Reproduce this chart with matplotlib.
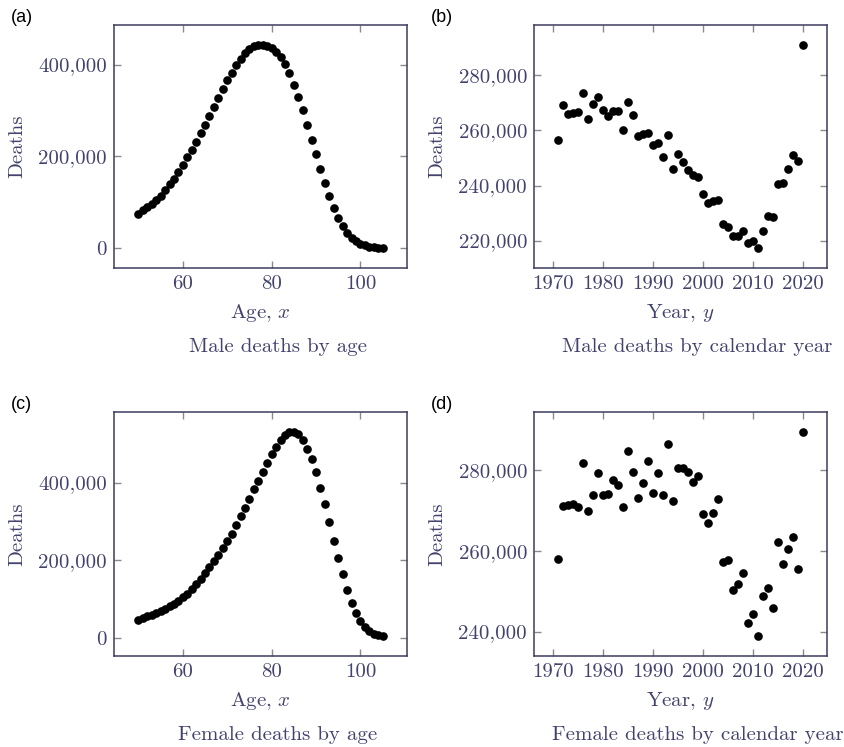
import matplotlib
matplotlib.use("Agg")
import matplotlib.pyplot as plt
from matplotlib.ticker import FuncFormatter

plt.rcParams["font.family"] = "serif"
plt.rcParams["font.serif"] = ["cmr10"]
plt.rcParams["mathtext.fontset"] = "cm"
plt.rcParams["axes.formatter.use_mathtext"] = True

# data
ages = list(range(50, 106))
male_by_age = [
    74.5, 81.7, 89.0, 96.2, 104.2, 112.1, 125.1, 138.2, 150.5, 166.4,
    181.6, 198.2, 214.1, 231.5, 250.3, 269.1, 287.9, 308.1, 327.7, 347.2,
    365.3, 381.9, 400.0, 412.3, 425.3, 434.0, 439.8, 442.0, 442.0, 441.2,
    436.2, 427.5, 416.6, 401.4, 380.5, 355.9, 329.8, 300.2, 268.4, 235.8,
    204.0, 172.2, 141.8, 113.6, 87.5, 65.8, 47.7, 33.3, 22.4, 14.5,
    8.7, 5.1, 2.2, 0.7, 0.3, 0.1,
]
female_by_age = [
    47.9, 52.1, 56.4, 60.7, 65.8, 70.9, 76.1, 82.0, 88.9, 96.6,
    105.1, 114.5, 125.6, 138.5, 152.1, 167.5, 182.9, 197.4, 213.7, 230.8,
    250.4, 269.2, 292.3, 314.5, 335.9, 358.1, 382.9, 404.3, 426.5, 451.3,
    474.4, 492.3, 508.5, 522.2, 529.1, 529.1, 524.0, 508.5, 486.3, 461.5,
    427.4, 385.5, 344.4, 299.1, 251.3, 206.8, 164.1, 123.9, 90.6, 65.0,
    43.6, 28.2, 17.9, 11.1, 7.7, 6.8,
]
years = list(range(1971, 2021))
male_by_year = [
    256.4, 269.4, 266.0, 266.3, 266.6, 273.6, 264.2, 269.7, 272.3, 267.4,
    265.3, 267.2, 266.9, 260.1, 270.3, 265.6, 258.1, 258.6, 259.2, 254.8,
    255.4, 250.3, 258.2, 246.1, 251.6, 248.7, 245.6, 243.8, 243.1, 236.8,
    233.7, 234.4, 234.8, 226.1, 224.8, 221.8, 221.8, 223.6, 219.3, 220.0,
    217.4, 223.6, 228.8, 228.4, 240.5, 240.8, 246.1, 251.0, 248.9, 290.9,
]
female_by_year = [
    257.9, 271.0, 271.3, 271.5, 270.8, 281.6, 269.9, 273.9, 279.2, 273.9,
    274.0, 277.4, 276.2, 270.8, 284.6, 279.6, 273.0, 276.7, 282.1, 274.2,
    279.3, 273.8, 286.5, 272.2, 280.5, 280.6, 279.5, 277.1, 278.4, 269.2,
    267.0, 269.3, 272.8, 257.3, 257.7, 250.2, 251.9, 254.6, 242.1, 244.4,
    239.0, 248.7, 250.9, 245.8, 262.1, 256.8, 260.5, 263.3, 255.4, 289.3,
]

txt = "#42426e"
frame = "#3c3c5e"
fs = 15

fig = plt.figure(figsize=(8.44, 7.47), dpi=100)

panels = [
    ("(a)", [0.1351, 0.6412, 0.3472, 0.3253], ages, male_by_age, "Age, $x$",
     "Male deaths by age", [60, 80, 100], [0, 200000, 400000]),
    ("(b)", [0.6327, 0.6412, 0.3472, 0.3253], years, male_by_year, "Year, $y$",
     "Male deaths by calendar year", list(range(1970, 2030, 10)),
     [220000, 240000, 260000, 280000]),
    ("(c)", [0.1351, 0.1218, 0.3472, 0.3266], ages, female_by_age, "Age, $x$",
     "Female deaths by age", [60, 80, 100], [0, 200000, 400000]),
    ("(d)", [0.6327, 0.1218, 0.3472, 0.3266], years, female_by_year, "Year, $y$",
     "Female deaths by calendar year", list(range(1970, 2030, 10)),
     [240000, 260000, 280000]),
]

for letter, rect, xs, vals, xlab, sub, xt, yt in panels:
    ax = fig.add_axes(rect)
    ax.plot(xs, [v * 1000 for v in vals], "o", color="black", markersize=5.2, linestyle="none")
    ax.margins(0.1)
    ax.set_xticks(xt)
    ax.set_yticks(yt)
    ax.yaxis.set_major_formatter(FuncFormatter(lambda v, p: f"{v:,.0f}"))
    ax.xaxis.set_major_formatter(FuncFormatter(lambda v, p: f"{v:.0f}"))
    ax.tick_params(direction="in", top=True, right=True, length=5, width=1,
                   color="#8a8a8a", labelcolor=txt, labelsize=fs)
    ax.tick_params(axis="x", pad=5)
    ax.tick_params(axis="y", pad=5)
    for s in ax.spines.values():
        s.set_color(frame)
        s.set_linewidth(1.1)
    ax.text(0.5, -0.185, xlab, transform=ax.transAxes, ha="center", va="center",
            color=txt, fontsize=fs)
    ax.text(0.558, -0.325, sub, transform=ax.transAxes, ha="center", va="center",
            color=txt, fontsize=fs)
    ax.text(-0.33, 0.5, "Deaths", transform=ax.transAxes, ha="center", va="center",
            rotation=90, color=txt, fontsize=fs)
    ax.text(-0.352, 1.03, letter, transform=ax.transAxes, ha="left", va="center",
            family="Liberation Sans", fontsize=13, color="black")

fig.savefig("out.png", dpi=100)
